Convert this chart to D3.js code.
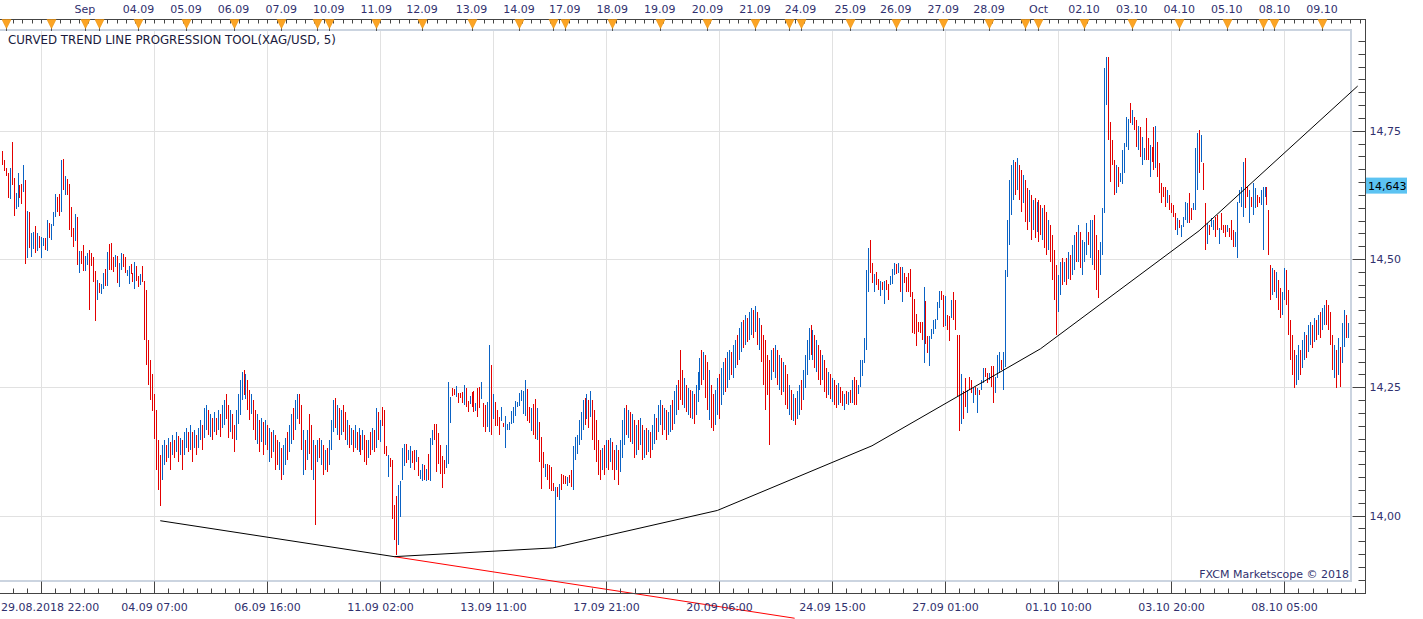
<!DOCTYPE html>
<html>
<head>
<meta charset="utf-8">
<script src="https://cdn.jsdelivr.net/npm/d3@7"></script>
<style>
  html, body { margin: 0; padding: 0; background: #fff; overflow: hidden; }
  svg { display: block; font-family: "DejaVu Sans", Verdana, sans-serif; }
</style>
</head>
<body>
<div id="chart"></div>
<script>
// ---- data (XAG/USD hourly bars, high / low / direction) ----
const barHigh = [
  // 29.08 - 31.08
  14.711,14.693,14.678,14.668,14.678,14.728,14.658,14.629,14.668,14.645,14.647,14.684,14.654,14.594,14.592,14.551,14.553,14.565,14.551,14.545,
  14.543,14.541,14.541,14.576,14.570,14.568,14.592,14.627,14.621,14.627,14.693,14.695,14.662,14.656,14.647,14.602,14.561,14.588,14.582,14.516,
  14.516,14.528,14.506,14.512,14.518,14.512,14.504,14.477,14.460,14.454,14.452,14.473,14.481,14.514,14.530,14.532,14.504,14.508,14.506,14.493,
  14.512,14.510,14.504,14.479,14.487,14.491,14.473,14.495,14.487,14.467,14.471,14.487,14.458,
  // 03.09 - 11.09
  14.440,14.343,14.304,14.275,14.236,14.206,14.148,14.119,
  14.138,14.148,14.138,14.152,14.144,14.158,14.148,14.163,14.156,14.152,
  14.148,14.163,14.171,14.163,14.177,14.163,14.167,14.158,14.171,14.187,
  14.177,14.210,14.216,14.206,14.197,14.191,14.202,14.191,14.206,14.197,
  14.216,14.226,14.236,14.216,14.206,14.197,14.177,14.206,14.236,14.265,
  14.280,14.284,14.275,14.265,14.245,14.236,14.226,14.206,14.197,14.187,
  14.191,14.183,14.187,14.177,14.171,14.163,14.167,14.158,14.148,14.144,
  14.132,14.138,14.152,14.163,14.177,14.197,14.210,14.226,14.236,14.236,
  14.216,14.167,14.148,14.167,14.197,14.177,14.148,14.138,14.148,14.152,
  14.148,14.138,14.128,14.132,14.148,14.187,14.226,14.230,14.216,14.210,
  14.206,14.216,14.202,14.187,14.177,14.171,14.167,14.177,14.163,14.171,
  14.158,14.167,14.158,14.148,14.148,14.163,14.171,14.167,14.210,14.202,
  // 11.09 - 17.09
  14.187,14.212,14.206,14.136,14.119,14.113,14.109,14.021,14.039,14.060,
  14.068,14.132,14.140,14.140,14.128,14.136,14.125,14.128,14.128,14.115,
  14.089,14.101,14.099,14.091,14.121,14.152,14.167,14.179,14.179,14.161,
  14.138,14.117,14.109,14.138,14.261,14.232,14.249,14.247,14.253,14.238,
  14.238,14.240,14.255,14.249,14.224,14.234,14.240,14.242,14.220,14.249,
  14.251,14.261,14.220,14.216,14.222,14.333,14.294,14.236,14.222,14.206,
  14.193,14.212,14.181,14.195,14.179,14.183,14.204,14.212,14.224,14.222,
  14.238,14.244,14.242,14.265,14.247,14.212,14.210,14.218,14.228,14.210,
  14.183,14.154,14.123,14.101,14.101,14.099,14.095,14.064,14.056,14.056,
  14.062,14.082,14.080,14.078,14.076,14.080,14.089,14.136,14.154,14.158,
  14.187,
  // 17.09 - 25.09
  14.202,14.226,14.230,14.236,14.226,14.242,14.226,14.206,14.187,14.148,
  14.128,14.132,14.138,14.148,14.148,14.152,14.144,14.128,14.138,14.128,
  14.148,14.187,14.210,14.216,14.206,14.202,14.197,14.187,14.177,14.187,
  14.191,14.177,14.167,14.171,14.167,14.163,14.177,14.197,14.191,14.216,
  14.226,14.216,14.210,14.206,14.202,14.216,14.226,14.242,14.255,14.265,
  14.323,14.284,14.269,14.255,14.249,14.245,14.242,14.236,14.255,14.280,
  14.308,14.323,14.319,14.313,14.300,14.284,14.255,14.236,14.245,14.269,
  14.275,14.288,14.300,14.308,14.319,14.323,14.319,14.333,14.343,14.352,
  14.366,14.378,14.382,14.391,14.385,14.397,14.405,14.401,14.409,14.397,
  14.385,14.372,14.352,14.343,14.313,14.304,14.323,14.327,14.333,14.323,
  14.313,14.308,14.300,14.294,14.275,14.255,14.245,14.236,14.230,14.242,
  14.255,14.265,14.284,14.313,14.343,14.366,14.372,14.362,14.352,14.343,
  14.333,14.323,14.313,14.304,14.288,14.280,14.275,14.269,14.265,14.255,
  14.259,
  // 25.09 - 01.10
  14.251,14.243,14.236,14.242,14.240,14.245,14.265,14.271,14.265,14.255,
  14.304,14.304,14.347,14.479,14.522,14.537,14.493,14.471,14.475,14.462,
  14.458,14.456,14.458,14.460,14.452,14.466,14.481,14.493,14.491,14.493,
  14.485,14.485,14.473,14.464,14.473,14.481,14.436,14.422,14.393,14.378,
  14.378,14.378,14.446,14.418,14.349,14.349,14.364,14.382,14.384,14.417,
  14.438,14.438,14.430,14.428,14.391,14.389,14.420,14.436,14.420,14.351,
  14.351,14.275,14.242,14.269,14.245,14.271,14.265,14.249,14.251,14.249,
  14.245,14.265,14.288,14.288,14.278,14.278,14.292,14.292,14.271,14.313,
  14.319,14.304,14.319,14.479,14.576,14.654,14.684,
  // 01.10 - 02.10
  14.693,14.689,14.697,14.684,14.674,14.664,14.654,14.639,14.635,14.625,
  14.615,14.619,14.611,14.615,14.605,14.600,14.605,14.592,14.576,14.567,
  14.547,14.518,14.489,14.469,14.495,14.502,14.495,14.502,14.514,14.508,
  14.528,14.547,14.553,14.567,14.553,
  // 02.10 - 08.10
  14.537,14.533,14.570,14.553,14.576,14.576,14.586,14.547,14.518,14.533,
  14.600,14.873,14.894,14.894,14.767,14.732,14.693,14.684,14.680,14.668,
  14.712,14.726,14.777,14.773,14.804,14.791,14.777,14.771,14.759,14.757,
  14.738,14.716,14.775,14.736,14.722,14.718,14.757,14.759,14.728,14.688,
  14.648,14.641,14.641,14.635,14.625,14.609,14.605,14.590,14.580,14.576,
  14.567,14.582,14.611,14.609,14.629,14.600,14.609,14.716,14.746,14.752,
  14.742,14.688,14.609,14.570,14.567,14.580,14.576,14.582,14.586,14.561,
  14.590,14.567,14.567,14.567,14.561,14.576,14.557,14.553,14.611,14.635,
  14.641,14.689,14.697,14.641,14.635,14.621,14.648,14.639,14.625,14.621,
  14.635,14.641,14.641,14.641,14.596,
  // 08.10 - 09.10
  14.489,14.483,14.479,14.475,14.460,14.444,14.436,14.483,14.479,14.440,
  14.382,14.352,14.323,14.313,14.333,14.323,14.343,14.358,14.352,14.372,
  14.378,14.372,14.385,14.382,14.391,14.397,14.405,14.411,14.420,14.411,
  14.397,14.352,14.333,14.323,14.347,14.329,14.376,14.401,14.391,14.376
];

const barLow = [
  14.684,14.672,14.662,14.619,14.617,14.645,14.584,14.598,14.602,14.619,14.608,14.631,14.491,14.502,14.522,14.504,14.520,14.512,14.516,14.522,
  14.502,14.526,14.518,14.516,14.541,14.537,14.565,14.582,14.592,14.584,14.592,14.635,14.625,14.625,14.557,14.543,14.524,14.536,14.489,14.473,
  14.491,14.477,14.477,14.489,14.401,14.487,14.456,14.380,14.422,14.434,14.432,14.442,14.448,14.448,14.479,14.479,14.475,14.485,14.454,14.446,
  14.479,14.485,14.473,14.467,14.452,14.471,14.456,14.442,14.458,14.446,14.450,14.456,14.343,
  //
  14.294,14.255,14.226,14.202,14.148,14.089,14.050,14.019,
  14.070,14.099,14.105,14.113,14.089,14.119,14.113,14.125,14.105,14.119,
  14.089,14.119,14.132,14.125,14.128,14.105,14.132,14.119,14.132,14.148,
  14.128,14.152,14.167,14.158,14.152,14.148,14.163,14.158,14.167,14.152,
  14.171,14.177,14.187,14.152,14.163,14.148,14.125,14.148,14.177,14.197,
  14.226,14.236,14.226,14.206,14.187,14.197,14.167,14.148,14.138,14.125,
  14.144,14.119,14.138,14.128,14.105,14.113,14.125,14.089,14.099,14.089,
  14.070,14.080,14.099,14.109,14.125,14.138,14.148,14.167,14.187,14.177,
  14.128,14.080,14.089,14.109,14.119,14.089,14.070,13.982,14.105,14.113,
  14.099,14.080,14.089,14.085,14.099,14.128,14.163,14.171,14.158,14.148,
  14.158,14.163,14.148,14.138,14.132,14.138,14.125,14.132,14.128,14.125,
  14.119,14.128,14.105,14.099,14.113,14.119,14.128,14.125,14.132,14.148,
  //
  14.144,14.175,14.121,14.117,14.076,14.095,13.994,13.953,13.924,13.943,
  13.998,14.070,14.097,14.103,14.109,14.093,14.101,14.089,14.105,14.078,
  14.072,14.068,14.070,14.068,14.070,14.068,14.138,14.148,14.085,14.101,
  14.082,14.054,14.082,14.093,14.101,14.181,14.234,14.236,14.232,14.218,
  14.228,14.218,14.216,14.212,14.202,14.218,14.210,14.202,14.204,14.193,
  14.210,14.228,14.173,14.163,14.173,14.163,14.158,14.187,14.175,14.175,
  14.158,14.185,14.173,14.132,14.167,14.167,14.179,14.181,14.195,14.212,
  14.212,14.222,14.197,14.195,14.185,14.181,14.165,14.158,14.150,14.148,
  14.105,14.052,14.091,14.076,14.070,14.052,14.048,14.048,13.937,14.037,
  14.031,14.050,14.062,14.062,14.058,14.064,14.056,14.050,14.109,14.121,
  14.138,
  //
  14.148,14.167,14.177,14.187,14.171,14.191,14.148,14.128,14.105,14.080,
  14.070,14.089,14.080,14.093,14.089,14.105,14.089,14.070,14.089,14.060,
  14.085,14.113,14.138,14.158,14.152,14.144,14.138,14.113,14.119,14.128,
  14.138,14.109,14.113,14.119,14.125,14.113,14.128,14.138,14.148,14.163,
  14.177,14.158,14.167,14.148,14.158,14.163,14.167,14.177,14.197,14.206,
  14.226,14.216,14.210,14.202,14.197,14.191,14.187,14.177,14.197,14.222,
  14.245,14.255,14.265,14.230,14.206,14.187,14.171,14.163,14.177,14.197,
  14.187,14.216,14.236,14.242,14.249,14.265,14.275,14.269,14.288,14.294,
  14.304,14.319,14.327,14.333,14.339,14.343,14.352,14.347,14.358,14.333,
  14.323,14.300,14.255,14.206,14.236,14.138,14.265,14.280,14.269,14.255,
  14.245,14.236,14.242,14.216,14.206,14.197,14.187,14.183,14.177,14.187,
  14.197,14.206,14.226,14.249,14.275,14.304,14.313,14.304,14.288,14.280,
  14.265,14.255,14.265,14.242,14.230,14.236,14.226,14.222,14.216,14.210,
  14.216,
  //
  14.220,14.214,14.204,14.216,14.214,14.220,14.220,14.216,14.216,14.238,
  14.251,14.273,14.298,14.323,14.436,14.473,14.454,14.436,14.450,14.440,
  14.428,14.440,14.413,14.440,14.420,14.448,14.452,14.469,14.471,14.473,
  14.436,14.417,14.454,14.434,14.436,14.426,14.356,14.354,14.331,14.358,
  14.356,14.343,14.298,14.335,14.316,14.290,14.345,14.354,14.364,14.382,
  14.405,14.420,14.368,14.370,14.362,14.341,14.384,14.382,14.362,14.232,
  14.163,14.177,14.187,14.212,14.200,14.245,14.240,14.220,14.236,14.200,
  14.236,14.245,14.259,14.271,14.259,14.265,14.251,14.220,14.240,14.269,
  14.278,14.284,14.245,14.290,14.464,14.528,14.586,
  //
  14.615,14.625,14.635,14.615,14.592,14.609,14.572,14.557,14.572,14.537,
  14.557,14.541,14.553,14.533,14.547,14.537,14.522,14.508,14.518,14.495,
  14.460,14.420,14.352,14.397,14.430,14.450,14.456,14.450,14.462,14.460,
  14.469,14.479,14.495,14.495,14.483,
  //
  14.469,14.495,14.508,14.528,14.502,14.489,14.479,14.440,14.424,14.469,
  14.508,14.590,14.800,14.732,14.650,14.684,14.625,14.629,14.641,14.650,
  14.645,14.668,14.718,14.712,14.765,14.761,14.752,14.718,14.712,14.699,
  14.684,14.693,14.693,14.693,14.660,14.689,14.674,14.678,14.660,14.629,
  14.609,14.621,14.602,14.609,14.596,14.590,14.582,14.557,14.547,14.561,
  14.543,14.563,14.576,14.570,14.570,14.576,14.596,14.596,14.635,14.668,
  14.689,14.635,14.518,14.530,14.547,14.563,14.557,14.543,14.557,14.530,
  14.557,14.551,14.543,14.553,14.543,14.537,14.524,14.524,14.502,14.609,
  14.602,14.582,14.600,14.621,14.570,14.602,14.586,14.600,14.602,14.609,
  14.605,14.518,14.621,14.605,14.508,
  //
  14.420,14.430,14.436,14.424,14.401,14.385,14.391,14.420,14.411,14.352,
  14.304,14.275,14.249,14.255,14.265,14.275,14.288,14.304,14.308,14.319,
  14.333,14.327,14.339,14.343,14.352,14.347,14.362,14.372,14.372,14.362,
  14.333,14.284,14.269,14.249,14.275,14.251,14.298,14.329,14.347,14.347
];

// R = down bar (red), B = up bar (blue)
const barDir = (
  "RRRRBRRBBRRBRBRBBRBRBBRBRBBBRRBRBRRRRBRBRRBBRRRR" + "BRBBRBRRRBRBBRRBBRR" + "BRRBRR" +
  "RRRRRRRR" + "BBRBRBRBRB" + "RBBRBRBRBB" + "RBBRBRBRBR" + "BBRRBRRBBB" + "BRBRRBRRBR" +
  "BRBRBRBRRB" + "RBBRBBRBBR" + "RBRBRRBRBR" + "BRBRBBBRBR" + "BRRBRBRBRB" + "RBRRBRBRB" + "R" +
  "BRRRBRRRRB" + "BBBRBBRRBR" + "BBRBRBBRRR" + "RRRBBBRRBR" + "RRBRRBRRBR" +
  "RBRRBBRBRR" + "RBRBBBBBBB" + "BBBBRRBRRB" + "RRRBRRRRBR" + "BRRRBRRBBB" + "B" +
  "BBRBRBRRRR" + "RBRBRBRRBR" + "BBBRBRBRBR" + "BRBRBRBBRB" + "BRBRBBRBBR" + "RRBRBRBRBB" +
  "BRBRRBRRBB" + "RBBRBBRBBR" + "BBRBRBBRBR" + "BRRRRRBRBR" + "BRBRRBRBRB" + "BRBBBBRBRB" + "RRBRRBRBRR" + "B" +
  "RRBRBRBRRB" + "BBBBBRRBRR" + "BRBRRBBBRB" + "RBRRRRRRRR" + "RRBRRBBBBB" +
  "BRRBRRBRRR" + "RBRRBRRBRB" + "RBBRRBRRBB" + "BRBBBBB" +
  "BRBRRBRRBR" + "BRBRRBRRBR" + "RRRBBRBRBR" + "BBRB" + "R" +
  "BBBRBBRRRB" + "BBBRRRRBRB" + "BBBBRBRRBR" + "BBRRBRRBRR" + "RRRBRRRRBR" +
  "BBBBRRBBBR" + "BRRBRBBRRB" + "RRRBRRRBBB" + "BBRRBRBBRR" + "BBBRR" +
  "RBRBRRBBRR" + "RRRBBRBBRB" + "BRBRBRBBRR" + "RRBRBRBBRB"
).split("");

// bottom time axis: bar index of each labelled grid line
const timeTickIdx = [20, 77, 134, 191, 248, 305, 362, 419, 476, 533, 590, 647];
const timeLabels = ["29.08.2018 22:00", "04.09 07:00", "06.09 16:00", "11.09 02:00", "13.09 11:00",
  "17.09 21:00", "20.09 06:00", "24.09 15:00", "27.09 01:00", "01.10 10:00", "03.10 20:00", "08.10 05:00"];

// top axis: session / day markers (bar index) and their labels
const dayIdx = [2, 25, 42, 49, 69, 93, 117, 141, 159, 165, 189, 212, 237, 261, 278, 284, 308, 332, 356, 380,
  397, 403, 428, 451, 475, 498, 516, 523, 546, 570, 594, 618, 636, 642, 666];
const dayLabels = ["", "", "Sep", "", "04.09", "05.09", "06.09", "07.09", "", "10.09", "11.09", "12.09", "13.09",
  "14.09", "", "17.09", "18.09", "19.09", "20.09", "21.09", "", "24.09", "25.09", "26.09", "27.09", "28.09", "",
  "Oct", "02.10", "03.10", "04.10", "05.10", "", "08.10", "09.10"];

// price axis
const priceLabels = [14.00, 14.25, 14.50, 14.75];
const lastPrice = 14.643;

// curved trend line (pivot lows and progression points) and its red projection
const trendIdx = [80, 198, 278, 361, 439, 524, 604, 684];
const trendPrice = [13.990, 13.920, 13.937, 14.010, 14.136, 14.325, 14.555, 14.837];
const projIdx = [198, 400];
const projPrice = [13.920, 13.800];

// ---- drawing ----
const W = 1423, H = 619;
const plotRight = 1351, plotTop = 31, plotBottom = 581;
const axisX = 1365, topAxisY = 19, bottomAxisY = 593;
const labelColor = "#30306e";

const svg = d3.select("#chart").append("svg")
  .attr("width", W)
  .attr("height", H);

const x = d3.scaleLinear().domain([0, 679]).range([1.65, 1.65 + 679 * 1.9825]);
const y = d3.scaleLinear().domain([14.00, 14.75]).range([515.6, 130.7]);
const px = v => Math.round(v) + 0.5;

const comma = d3.formatLocale({ decimal: ",", thousands: ".", grouping: [3], currency: ["", ""] });

// d3 axes put their own font on the group; use the page font instead
const plainAxis = g => g.attr("font-family", null).attr("font-size", null);

// grid
const grid = svg.append("g").attr("stroke", "#e1e1e1").attr("stroke-width", 1);
grid.selectAll(".gx").data(timeTickIdx).join("line")
  .attr("x1", d => px(x(d))).attr("x2", d => px(x(d)))
  .attr("y1", plotTop).attr("y2", plotBottom);
grid.selectAll(".gy").data(priceLabels).join("line")
  .attr("x1", 0).attr("x2", plotRight)
  .attr("y1", d => px(y(d))).attr("y2", d => px(y(d)));

// plot frame
svg.append("rect")
  .attr("x", -2).attr("y", plotTop - 1)
  .attr("width", plotRight + 2).attr("height", plotBottom - plotTop + 1)
  .attr("fill", "none").attr("stroke", "#cbd4e0").attr("stroke-width", 2);

// bars
svg.append("g").attr("shape-rendering", "crispEdges")
  .selectAll("rect").data(d3.range(barHigh.length)).join("rect")
  .attr("x", i => Math.round(x(i)))
  .attr("y", i => Math.round(y(barHigh[i])))
  .attr("width", 1)
  .attr("height", i => Math.max(1, Math.round(y(barLow[i]) - y(barHigh[i]))))
  .attr("fill", i => barDir[i] === "B" ? "#0a62c4" : "#e30000");

// trend lines
const line = d3.line().x(d => x(d[0])).y(d => y(d[1]));
svg.append("path")
  .attr("d", line(projIdx.map((d, i) => [d, projPrice[i]])))
  .attr("fill", "none").attr("stroke", "#ff0000").attr("stroke-width", 1);
svg.append("path")
  .attr("d", line(trendIdx.map((d, i) => [d, trendPrice[i]])))
  .attr("fill", "none").attr("stroke", "#000").attr("stroke-width", 1);

// title and copyright
svg.append("text")
  .attr("x", 8).attr("y", 44)
  .attr("font-size", 11.8).attr("fill", "#1a1a3c")
  .text("CURVED TREND LINE PROGRESSION TOOL(XAG/USD, 5)");
svg.append("text")
  .attr("x", 1349).attr("y", 578)
  .attr("text-anchor", "end")
  .attr("font-size", 11).attr("fill", labelColor)
  .text("FXCM Marketscope © 2018");

// bottom axis
const bottomAxis = svg.append("g").attr("transform", `translate(0,${bottomAxisY})`);
bottomAxis.append("line")
  .attr("x1", 0).attr("x2", axisX + 0.5).attr("y1", 0.5).attr("y2", 0.5)
  .attr("stroke", "#444");
const minorBottom = d3.range(20 - 2 * 7.125, 688, 7.125);
bottomAxis.append("g")
  .call(d3.axisBottom(x).tickValues(minorBottom).tickSize(-5).tickFormat(""))
  .call(g => g.select(".domain").remove())
  .call(g => g.selectAll(".tick").attr("transform", d => `translate(${px(x(d))},0.5)`))
  .call(g => g.selectAll("line").attr("stroke", "#444"));
bottomAxis.append("g")
  .call(d3.axisBottom(x).tickValues(timeTickIdx).tickSize(-12).tickPadding(10)
    .tickFormat((d, i) => timeLabels[i]))
  .call(plainAxis)
  .call(g => g.select(".domain").remove())
  .call(g => g.selectAll(".tick").attr("transform", d => `translate(${px(x(d))},0.5)`))
  .call(g => g.selectAll("line").attr("stroke", "#444"))
  .call(g => g.selectAll("text").attr("font-size", 11).attr("fill", labelColor))
  .call(g => g.select(".tick text")
    .attr("text-anchor", "start").attr("x", 1 - px(x(timeTickIdx[0]))));

// right price axis
const priceAxis = svg.append("g").attr("transform", `translate(${axisX},0)`);
priceAxis.append("line")
  .attr("x1", 0.5).attr("x2", 0.5).attr("y1", topAxisY).attr("y2", bottomAxisY + 1)
  .attr("stroke", "#444");
priceAxis.append("g")
  .call(d3.axisRight(y).tickValues(d3.range(13.875, 14.93, 0.025)).tickSize(-7).tickFormat(""))
  .call(g => g.select(".domain").remove())
  .call(g => g.selectAll(".tick").attr("transform", d => `translate(0.5,${px(y(d))})`))
  .call(g => g.selectAll("line").attr("stroke", "#444"));
priceAxis.append("g")
  .call(d3.axisRight(y).tickValues(priceLabels).tickSize(-13).tickPadding(4)
    .tickFormat(comma.format(".2f")))
  .call(plainAxis)
  .call(g => g.select(".domain").remove())
  .call(g => g.selectAll(".tick").attr("transform", d => `translate(0.5,${px(y(d))})`))
  .call(g => g.selectAll("line").attr("stroke", "#444"))
  .call(g => g.selectAll("text").attr("font-size", 11).attr("fill", labelColor));

// last price marker
const lp = svg.append("g").attr("transform", `translate(${axisX + 1},${y(lastPrice)})`);
lp.append("rect")
  .attr("x", 0).attr("y", -8).attr("width", 41).attr("height", 16)
  .attr("fill", "#5cc3f2");
lp.append("text")
  .attr("x", 2).attr("y", 4)
  .attr("font-size", 11).attr("fill", "#000")
  .text(comma.format(".3f")(lastPrice));

// top axis with day markers
const dayAxis = svg.append("g");
dayAxis.append("line")
  .attr("x1", 0).attr("x2", axisX + 0.5).attr("y1", topAxisY + 0.5).attr("y2", topAxisY + 0.5)
  .attr("stroke", "#444");
dayAxis.append("g").attr("transform", `translate(0,${topAxisY})`)
  .call(d3.axisBottom(x).tickValues(d3.range(20 - 4 * 4.75, 688, 4.75)).tickSize(4).tickFormat(""))
  .call(g => g.select(".domain").remove())
  .call(g => g.selectAll(".tick").attr("transform", d => `translate(${px(x(d))},0.5)`))
  .call(g => g.selectAll("line").attr("stroke", "#444"));
const marks = dayAxis.selectAll(".day").data(dayIdx).join("g")
  .attr("transform", d => `translate(${px(x(d))},${topAxisY})`);
marks.append("line")
  .attr("x1", 0).attr("x2", 0).attr("y1", 0).attr("y2", 12)
  .attr("stroke", "#555");
marks.append("path")
  .attr("d", "M-4.5,0.5 L4.5,0.5 L0,9.5 Z")
  .attr("fill", "#fca424").attr("stroke", "#e99410").attr("stroke-width", 0.6);
dayAxis.selectAll(".dayLabel").data(dayIdx).join("text")
  .attr("x", d => x(d))
  .attr("y", 13)
  .attr("text-anchor", "middle")
  .attr("font-size", 11).attr("fill", labelColor)
  .text((d, i) => dayLabels[i]);

if (barHigh.length !== barLow.length || barHigh.length !== barDir.length) {
  console.warn("bar arrays differ", barHigh.length, barLow.length, barDir.length);
}
</script>
</body>
</html>
